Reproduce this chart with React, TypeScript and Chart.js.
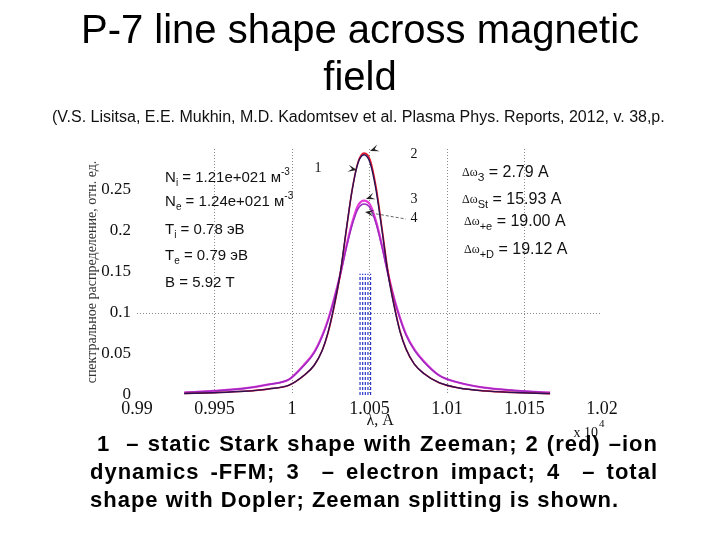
import React, { useEffect, useRef } from 'react';
import { Chart, registerables } from 'chart.js';
Chart.register(...registerables);

// wavelength grid (units of 10^4 A)
const lambda = [
  0.99305, 0.99497, 0.99691, 0.99852, 0.99981, 1.00078, 1.00142, 1.00194, 1.00233, 1.00271,
  1.0031, 1.00349, 1.00388, 1.00426, 1.00465, 1.00504, 1.00542, 1.00581, 1.0062, 1.00659,
  1.00697, 1.00736, 1.00788, 1.00852, 1.00949, 1.01078, 1.01239, 1.01433, 1.01625, 1.01665,
];
// 1 - static Stark shape with Zeeman
const curve1 = [
  0.0018, 0.0028, 0.0045, 0.0075, 0.012, 0.024, 0.036, 0.054, 0.077, 0.108,
  0.147, 0.2, 0.25, 0.283, 0.293, 0.283, 0.25, 0.2, 0.147, 0.108,
  0.077, 0.056, 0.038, 0.026, 0.015, 0.0085, 0.005, 0.003, 0.0018, 0.0017,
];
// 2 - ion dynamics FFM (red)
const curve2 = [
  0.0018, 0.0028, 0.0045, 0.0075, 0.012, 0.024, 0.036, 0.054, 0.076, 0.107,
  0.146, 0.199, 0.25, 0.284, 0.295, 0.287, 0.254, 0.203, 0.15, 0.11,
  0.078, 0.056, 0.038, 0.026, 0.015, 0.0085, 0.005, 0.003, 0.0018, 0.0017,
];
// 3 - electron impact
const curve3 = [
  0.003, 0.005, 0.008, 0.013, 0.019, 0.037, 0.052, 0.072, 0.092, 0.117,
  0.146, 0.18, 0.21, 0.231, 0.237, 0.232, 0.212, 0.182, 0.148, 0.118,
  0.094, 0.074, 0.056, 0.041, 0.024, 0.015, 0.009, 0.0055, 0.0032, 0.003,
];
// 4 - total shape with Doppler
const curve4 = [
  0.003, 0.005, 0.008, 0.013, 0.019, 0.036, 0.051, 0.071, 0.091, 0.116,
  0.145, 0.178, 0.207, 0.227, 0.233, 0.228, 0.209, 0.18, 0.147, 0.117,
  0.093, 0.073, 0.055, 0.04, 0.024, 0.015, 0.009, 0.0055, 0.0032, 0.003,
];
// Zeeman splitting components
const zeemanLambda = [1.00439, 1.00456, 1.00473, 1.0049, 1.00507];
const zeemanHeight = [0.148, 0.148, 0.148, 0.148, 0.148];

const xTicks = [0.99, 0.995, 1, 1.005, 1.01, 1.015, 1.02];
const yTicks = [0, 0.05, 0.1, 0.15, 0.2, 0.25];

const yTitle = 'спектральное распределение, отн. ед.';

const SANS = '"Liberation Sans", Arial, sans-serif';
const SERIF = '"Liberation Serif", "Times New Roman", serif';

type Part = [string, string, number];
function rich(ctx: CanvasRenderingContext2D, x0: number, y0: number, parts: Part[]) {
  let x = x0;
  for (const [t, font, dy] of parts) {
    ctx.font = font;
    ctx.fillText(t, x, y0 + dy);
    x += ctx.measureText(t).width;
  }
}
function arrowHead(ctx: CanvasRenderingContext2D, tx: number, ty: number, ang: number) {
  const L = 9, W = 3.5;
  ctx.save();
  ctx.translate(tx, ty);
  ctx.rotate(ang);
  ctx.beginPath();
  ctx.moveTo(0, 0);
  ctx.lineTo(-L, -W);
  ctx.lineTo(-L * 0.55, 0);
  ctx.lineTo(-L, W);
  ctx.closePath();
  ctx.fill();
  ctx.restore();
}

const annotPlugin = {
  id: 'annot',
  afterDatasetsDraw(chart: any) {
    const { ctx, scales, chartArea } = chart;
    const X = (v: number) => scales.x.getPixelForValue(v);
    const Y = (v: number) => scales.y.getPixelForValue(v);
    ctx.save();
    ctx.fillStyle = '#111';
    ctx.textBaseline = 'middle';
    ctx.textAlign = 'left';
    const big = `15px ${SANS}`;
    const small = `10px ${SANS}`;
    const lx = X(0.99181);
    rich(ctx, lx, Y(0.2646), [['N', big, 0], ['i', small, 5], [' = 1.21e+021 м', big, 0], ['-3', small, -6]]);
    rich(ctx, lx, Y(0.2354), [['N', big, 0], ['e', small, 5], [' = 1.24e+021 м', big, 0], ['-3', small, -6]]);
    rich(ctx, lx, Y(0.2012), [['T', big, 0], ['i', small, 5], [' = 0.78 эВ', big, 0]]);
    rich(ctx, lx, Y(0.1695), [['T', big, 0], ['e', small, 5], [' = 0.79 эВ', big, 0]]);
    rich(ctx, lx, Y(0.1366), [['B = 5.92 T', big, 0]]);

    const rx = X(1.01097);
    const dw = `12px ${SERIF}`;
    const rbig = `16px ${SANS}`;
    const rsmall = `11px ${SANS}`;
    rich(ctx, rx, Y(0.2707), [['Δω', dw, 0], ['З', rsmall, 5], [' = 2.79 A', rbig, 0]]);
    rich(ctx, rx, Y(0.2378), [['Δω', dw, 0], ['St', rsmall, 5], [' = 15.93 A', rbig, 0]]);
    rich(ctx, rx + 2, Y(0.211), [['Δω', dw, 0], ['+e', rsmall, 5], [' = 19.00 A', rbig, 0]]);
    rich(ctx, rx + 2, Y(0.1768), [['Δω', dw, 0], ['+D', rsmall, 5], [' = 19.12 A', rbig, 0]]);

    // curve labels and arrows
    ctx.font = `14px ${SERIF}`;
    ctx.textAlign = 'center';
    ctx.fillText('1', X(1.00168), Y(0.2768));
    ctx.fillText('2', X(1.00787), Y(0.2939));
    ctx.fillText('3', X(1.00787), Y(0.239));
    ctx.fillText('4', X(1.00787), Y(0.2159));
    ctx.fillStyle = '#222';
    arrowHead(ctx, X(1.00419), Y(0.2744), 0.2);
    arrowHead(ctx, X(1.00503), Y(0.2976), Math.PI - 0.35);
    arrowHead(ctx, X(1.00477), Y(0.239), Math.PI - 0.35);
    arrowHead(ctx, X(1.00471), Y(0.2232), Math.PI + 0.15);
    ctx.strokeStyle = '#666';
    ctx.lineWidth = 1;
    ctx.setLineDash([3, 2]);
    ctx.beginPath();
    ctx.moveTo(X(1.00471) + 6, Y(0.2232) + 1);
    ctx.lineTo(X(1.00735), Y(0.2146));
    ctx.stroke();
    ctx.setLineDash([]);

    // axis title and exponent
    ctx.fillStyle = '#111';
    ctx.font = `16px ${SERIF}`;
    ctx.textAlign = 'center';
    ctx.fillText('λ, A', X(1.00568), chartArea.bottom + 26);
    ctx.textAlign = 'right';
    ctx.font = `14px ${SERIF}`;
    const ex = X(1.01974);
    ctx.fillText('x 10', ex, chartArea.bottom + 38);
    ctx.textAlign = 'left';
    ctx.font = `11px ${SERIF}`;
    ctx.fillText('4', ex + 1, chartArea.bottom + 29);
    ctx.restore();
  },
};

export default function App() {
  const ref = useRef<HTMLCanvasElement>(null);
  useEffect(() => {
    if (!ref.current) return;
    const pts = (ys: number[]) => lambda.map((x, i) => ({ x, y: ys[i] }));
    const curveDs = (label: string, ys: number[], color: string, width: number, order: number) => ({
      label,
      data: pts(ys),
      borderColor: color,
      backgroundColor: color,
      borderWidth: width,
      pointRadius: 0,
      cubicInterpolationMode: 'monotone' as const,
      order,
    });
    const zeemanDs = zeemanLambda.map((x, i) => ({
      label: 'Zeeman ' + (i + 1),
      data: [{ x, y: 0 }, { x, y: zeemanHeight[i] }],
      borderColor: '#2a35c8',
      borderWidth: 1.2,
      borderDash: [3, 2],
      pointRadius: 0,
      order: 10,
    }));
    const chart = new Chart(ref.current, {
      type: 'line',
      data: {
        datasets: [
          curveDs('1', curve1, '#2c1254', 1.4, 1),
          curveDs('2', curve2, '#e3162e', 1.6, 2),
          curveDs('4', curve4, '#9b2bc0', 1.4, 3),
          curveDs('3', curve3, '#e43ad8', 2.2, 4),
          ...zeemanDs,
        ] as any,
      },
      options: {
        animation: false,
        responsive: true,
        maintainAspectRatio: false,
        layout: { padding: { left: 80, right: 118, top: 149, bottom: 105 } },
        plugins: { legend: { display: false }, tooltip: { enabled: false } },
        scales: {
          x: {
            type: 'linear',
            min: 0.99,
            max: 1.02,
            afterFit: (s: any) => { s.height = 40; },
            afterBuildTicks: (s: any) => { s.ticks = xTicks.map((v) => ({ value: v })); },
            border: { display: false, dash: [1, 2] },
            grid: {
              drawTicks: false,
              color: (c: any) => (c.tick && c.tick.value > 0.991 && c.tick.value < 1.019 ? '#8a8a8a' : 'transparent'),
              lineWidth: 1,
            },
            ticks: {
              padding: 3,
              color: '#111',
              font: { family: SERIF, size: 18 },
              callback: (v: any) => String(Number(v)),
              maxRotation: 0,
              autoSkip: false,
            },
          },
          y: {
            type: 'linear',
            min: 0,
            max: 0.3,
            afterFit: (s: any) => { s.width = 57; },
            afterBuildTicks: (s: any) => { s.ticks = yTicks.map((v) => ({ value: v })); },
            border: { display: false, dash: [1, 2] },
            grid: {
              drawTicks: false,
              color: (c: any) => (c.tick && Math.abs(c.tick.value - 0.1) < 1e-6 ? '#8a8a8a' : 'transparent'),
            },
            ticks: {
              padding: 6,
              color: '#111',
              font: { family: SERIF, size: 17 },
              callback: (v: any) => String(Number(v)),
              autoSkip: false,
            },
            title: {
              display: true,
              text: yTitle,
              color: '#333',
              font: { family: SERIF, size: 14 },
              padding: { top: 4, bottom: 4 },
            },
          },
        },
      },
      plugins: [annotPlugin],
    });
    return () => chart.destroy();
  }, []);

  const lineStyle: React.CSSProperties = {
    textAlign: 'justify',
    textAlignLast: 'justify' as any,
    whiteSpace: 'nowrap',
  };
  return (
    <div style={{ position: 'absolute', left: 0, top: 0, width: 720, height: 540, background: '#fff', overflow: 'hidden' }}>
      <canvas ref={ref} style={{ position: 'absolute', left: 0, top: 0 }} />
      <div style={{ position: 'absolute', left: 0, top: 6, width: 720, textAlign: 'center', fontFamily: SANS, fontSize: 40, lineHeight: '47px', color: '#000' }}>
        P-7 line shape across magnetic<br />field
      </div>
      <div style={{ position: 'absolute', left: 52, top: 108, fontFamily: SANS, fontSize: 16, color: '#111', whiteSpace: 'nowrap' }}>
        (V.S. Lisitsa, E.E. Mukhin, M.D. Kadomtsev et al. Plasma Phys. Reports, 2012, v. 38,p.
      </div>
      <div style={{ position: 'absolute', left: 90, top: 430, width: 568, fontFamily: SANS, fontWeight: 'bold', fontSize: 22, letterSpacing: '1px', lineHeight: '28px', color: '#000' }}>
        <div style={{ ...lineStyle, paddingLeft: 7 }}>1&nbsp; – static Stark shape with Zeeman; 2 (red) –ion</div>
        <div style={lineStyle}>dynamics -FFM; 3&nbsp; – electron impact; 4&nbsp; – total</div>
        <div style={{ whiteSpace: 'nowrap' }}>shape with Dopler; Zeeman splitting is shown.</div>
      </div>
    </div>
  );
}
